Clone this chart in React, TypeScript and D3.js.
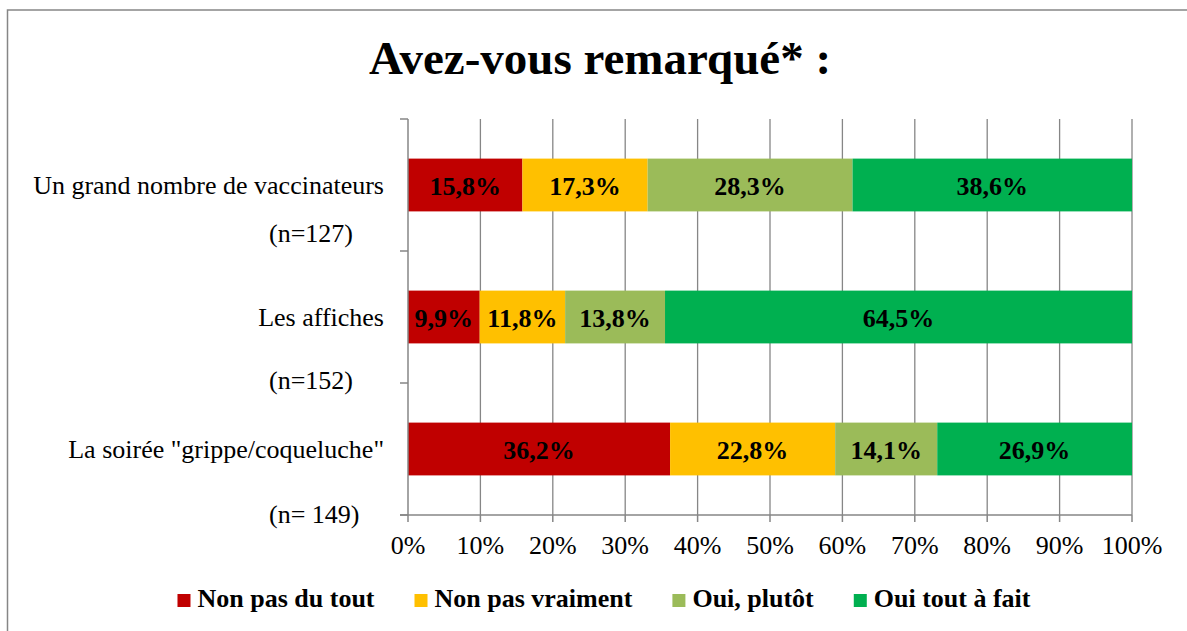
import React, { useRef, useEffect } from "react";
import * as d3 from "d3";

// categories (top to bottom) and their sample sizes
const categories = [
  "Un grand nombre de vaccinateurs",
  "Les affiches",
  'La soirée "grippe/coqueluche"',
];
const sampleLabels = ["(n=127)", "(n=152)", "(n= 149)"];

// answer series
const seriesNames = ["Non pas du tout", "Non pas vraiment", "Oui, plutôt", "Oui tout à fait"];
const seriesColors = ["#C00000", "#FFC000", "#9BBB59", "#00B050"];

// percentages per category, in series order
const nonPasDuTout = [15.8, 9.9, 36.2];
const nonPasVraiment = [17.3, 11.8, 22.8];
const ouiPlutot = [28.3, 13.8, 14.1];
const ouiToutAFait = [38.6, 64.5, 26.9];

const xTicks = [0, 10, 20, 30, 40, 50, 60, 70, 80, 90, 100];

const W = 1187;
const H = 631;
const FONT = "'Liberation Serif', 'Times New Roman', serif";
const AXIS = "#868686";

const App: React.FC = () => {
  const svgRef = useRef<SVGSVGElement | null>(null);

  useEffect(() => {
    const svg = d3.select(svgRef.current);
    svg.selectAll("*").remove();

    const plot = { left: 408, right: 1132, top: 119, bottom: 515 };

    const x = d3.scaleLinear().domain([0, 100]).range([plot.left, plot.right]);
    const y = d3
      .scaleBand<string>()
      .domain(categories)
      .range([plot.top, plot.bottom])
      .padding(0);
    const bw = y.bandwidth();
    const barH = bw * 0.4;

    // outer frame
    svg
      .append("rect")
      .attr("x", 7.5)
      .attr("y", 10)
      .attr("width", 1300)
      .attr("height", 800)
      .attr("fill", "#fff")
      .attr("stroke", AXIS)
      .attr("stroke-width", 1.5);

    // title
    svg
      .append("text")
      .attr("x", 600)
      .attr("y", 74)
      .attr("text-anchor", "middle")
      .style("font-family", FONT)
      .style("font-size", "47px")
      .style("font-weight", "bold")
      .text("Avez-vous remarqué* :");

    // gridlines
    svg
      .append("g")
      .selectAll("line")
      .data(xTicks.filter((t) => t > 0))
      .enter()
      .append("line")
      .attr("x1", (d) => x(d))
      .attr("x2", (d) => x(d))
      .attr("y1", plot.top)
      .attr("y2", plot.bottom)
      .attr("stroke", AXIS)
      .attr("stroke-width", 1.3);

    // stacked bars
    const rows = categories.map((c, i) => [
      nonPasDuTout[i],
      nonPasVraiment[i],
      ouiPlutot[i],
      ouiToutAFait[i],
    ]);

    categories.forEach((cat, i) => {
      let acc = 0;
      const segs = rows[i].map((v, k) => {
        const s = { k, v, x0: acc, x1: acc + v };
        acc += v;
        return s;
      });
      const yTop = (y(cat) as number) + (bw - barH) / 2;
      const g = svg.append("g");
      g.selectAll("rect")
        .data(segs)
        .enter()
        .append("rect")
        .attr("x", (d) => x(d.x0))
        .attr("y", yTop)
        .attr("width", (d) => x(d.x1) - x(d.x0))
        .attr("height", barH)
        .attr("fill", (d) => seriesColors[d.k]);
      g.selectAll("text")
        .data(segs)
        .enter()
        .append("text")
        .attr("x", (d) => (x(d.x0) + x(d.x1)) / 2)
        .attr("y", yTop + barH / 2)
        .attr("dy", "0.4em")
        .attr("text-anchor", "middle")
        .style("font-family", FONT)
        .style("font-size", "26px")
        .style("font-weight", "bold")
        .text((d) => d.v.toFixed(1).replace(".", ",") + "%");
    });

    // y axis
    const ya = svg.append("g");
    ya.append("line")
      .attr("x1", plot.left)
      .attr("x2", plot.left)
      .attr("y1", plot.top)
      .attr("y2", plot.bottom)
      .attr("stroke", AXIS)
      .attr("stroke-width", 1.5);
    const yTickPos = [plot.top, ...categories.map((c) => (y(c) as number) + bw)];
    ya.selectAll("line.tick")
      .data(yTickPos)
      .enter()
      .append("line")
      .attr("class", "tick")
      .attr("x1", plot.left - 8)
      .attr("x2", plot.left)
      .attr("y1", (d) => d)
      .attr("y2", (d) => d)
      .attr("stroke", AXIS)
      .attr("stroke-width", 1.5);

    // category labels (two lines)
    const nOffset = [48, 63, 65];
    categories.forEach((cat, i) => {
      const cy = (y(cat) as number) + bw / 2;
      svg
        .append("text")
        .attr("x", 384)
        .attr("y", cy)
        .attr("dy", "0.33em")
        .attr("text-anchor", "end")
        .style("font-family", FONT)
        .style("font-size", "26px")
        .text(cat);
      svg
        .append("text")
        .attr("x", 269)
        .attr("y", cy + nOffset[i])
        .attr("dy", "0.33em")
        .attr("text-anchor", "start")
        .style("font-family", FONT)
        .style("font-size", "26px")
        .text(sampleLabels[i]);
    });

    // x axis
    const xa = svg.append("g");
    xa.append("line")
      .attr("x1", plot.left - 8)
      .attr("x2", plot.right)
      .attr("y1", plot.bottom)
      .attr("y2", plot.bottom)
      .attr("stroke", AXIS)
      .attr("stroke-width", 1.5);
    xa.selectAll("line.tick")
      .data(xTicks)
      .enter()
      .append("line")
      .attr("class", "tick")
      .attr("x1", (d) => x(d))
      .attr("x2", (d) => x(d))
      .attr("y1", plot.bottom)
      .attr("y2", plot.bottom + 7)
      .attr("stroke", AXIS)
      .attr("stroke-width", 1.5);
    xa.selectAll("text")
      .data(xTicks)
      .enter()
      .append("text")
      .attr("x", (d) => x(d))
      .attr("y", 554)
      .attr("text-anchor", "middle")
      .style("font-family", FONT)
      .style("font-size", "26px")
      .text((d) => d + "%");

    // legend
    const lg = svg.append("g");
    const items = seriesNames.map((name, k) => {
      const it = lg.append("g");
      it.append("rect")
        .attr("x", 0)
        .attr("y", -13)
        .attr("width", 13)
        .attr("height", 13)
        .attr("fill", seriesColors[k]);
      const t = it
        .append("text")
        .attr("x", 20)
        .attr("y", 0)
        .style("font-family", FONT)
        .style("font-size", "26px")
        .style("font-weight", "bold")
        .text(name);
      const tw = (t.node() as SVGTextElement).getComputedTextLength();
      return { it, w: 20 + tw };
    });
    const gap = 40;
    const total = d3.sum(items, (d) => d.w) + gap * (items.length - 1);
    let lx = 604 - total / 2;
    items.forEach((d) => {
      d.it.attr("transform", `translate(${lx},607)`);
      lx += d.w + gap;
    });
  }, []);

  return (
    <svg
      ref={svgRef}
      width={W}
      height={H}
      style={{ position: "absolute", left: 0, top: 0, background: "#fff" }}
    ></svg>
  );
};

export default App;
